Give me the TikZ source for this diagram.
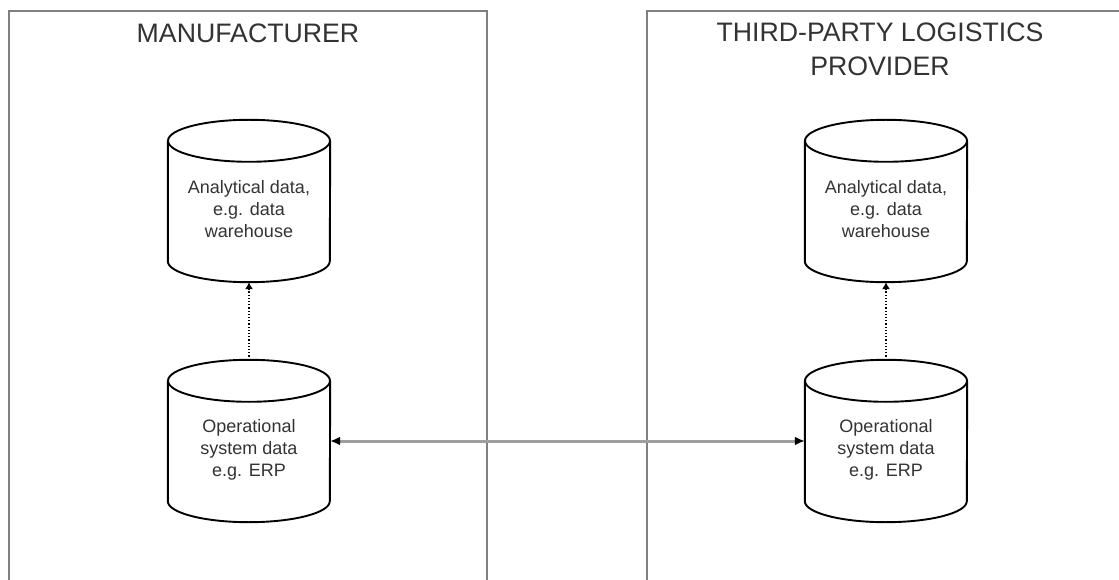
\documentclass[tikz,border=0pt]{standalone}
\usepackage{fontspec}
\setmainfont{Liberation Sans}
\usetikzlibrary{arrows.meta}
\begin{document}
\begin{tikzpicture}[x=1pt,y=1pt,
  db/.style={rectangle, draw=none, minimum width=162pt, minimum height=162pt, inner sep=0pt},
  cyl/.style={draw=black, line width=1.9pt, line join=round},
  dbtext/.style={align=center, font=\fontsize{18}{22}\selectfont, text=black!80, inner sep=0pt},
  zone/.style={draw=black!50, line width=1.6pt},
  title/.style={align=center, font=\fontsize{26.7}{34}\selectfont, text=black!80, inner sep=0pt},
  flow/.style={line width=3pt, draw=black!38,
    {Latex[black,length=10pt,width=9pt]}-{Latex[black,length=10pt,width=9pt]}},
  feed/.style={dotted, line width=1.2pt, -{Latex[length=7pt,width=8pt]}}
  ]
\useasboundingbox (0,0) rectangle (1119,579);
\clip (0,0) rectangle (1119,579);
\fill[white] (0,0) rectangle (1119,579);
% zones
\draw[zone] (9,-10) |- (487,568) -- (487,-10);
\draw[zone] (647,-10) |- (1140,568);
\node[title] (t1) at (248,546) {MANUFACTURER};
\node[title] (t2) at (880,530) {THIRD-PARTY LOGISTICS\\PROVIDER};
% cylinders
\node[db] (a1) at (249,378) {};
\node[db] (b1) at (249,138) {};
\node[db] (a2) at (886,378) {};
\node[db] (b2) at (886,138) {};
\foreach \c in {a1,b1,a2,b2}{
  \draw[cyl] ([yshift=-21pt]\c.north west) -- ([yshift=21pt]\c.south west)
    arc[start angle=180, end angle=360, x radius=81pt, y radius=21pt]
    -- ([yshift=-21pt]\c.north east);
  \draw[cyl] ([yshift=-21pt]\c.north) ellipse[x radius=81pt, y radius=21pt];
}
\node[dbtext] (a1t) at (249,370) {Analytical data,\\e.g. data\\warehouse};
\node[dbtext] (b1t) at (249,129) {Operational\\system data\\e.g. ERP};
\node[dbtext] (a2t) at (886,370) {Analytical data,\\e.g. data\\warehouse};
\node[dbtext] (b2t) at (886,129) {Operational\\system data\\e.g. ERP};
% connectors
\draw[feed] (b1.north) -- (a1.south);
\draw[feed] (b2.north) -- (a2.south);
\draw[flow] (b1.east) -- (b2.west);
\end{tikzpicture}
\end{document}
